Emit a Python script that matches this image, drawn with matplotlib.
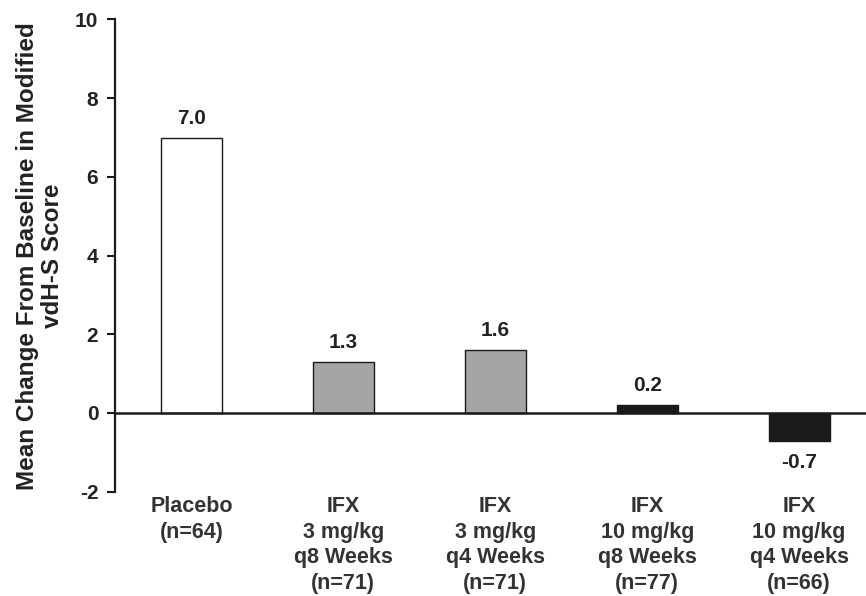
import matplotlib.pyplot as plt
import numpy as np

plt.rcParams['font.family'] = ['Liberation Sans', 'DejaVu Sans']

groups = ["Placebo\n(n=64)",
          "IFX\n3 mg/kg\nq8 Weeks\n(n=71)",
          "IFX\n3 mg/kg\nq4 Weeks\n(n=71)",
          "IFX\n10 mg/kg\nq8 Weeks\n(n=77)",
          "IFX\n10 mg/kg\nq4 Weeks\n(n=66)"]
mean_change = [7.0, 1.3, 1.6, 0.2, -0.7]
bar_colors = ["white", "#a5a5a7", "#a5a5a7", "#1a1a1a", "#1a1a1a"]
yticks = [-2, 0, 2, 4, 6, 8, 10]

fig = plt.figure(figsize=(8.66, 5.96), dpi=100)
ax = fig.add_axes([0.1328, 0.175, 0.8672, 0.7923])

x = np.arange(len(groups))
ax.bar(x, mean_change, width=0.40, color=bar_colors, edgecolor="#1a1a1a",
       linewidth=1.0, zorder=2)
ax.axhline(0, color="#1a1a1a", lw=1.8, zorder=3)

for xi, v in zip(x, mean_change):
    if v >= 0:
        ax.text(xi, v + 0.25, f"{v:.1f}", ha="center", va="bottom",
                fontsize=15, fontweight="bold", color="#222222")
    else:
        ax.text(xi, v - 0.32, f"{v:.1f}", ha="center", va="top",
                fontsize=15, fontweight="bold", color="#222222")

ax.set_xlim(-0.503, 4.44)
ax.set_ylim(-2, 10)
ax.set_yticks(yticks)
ax.set_yticklabels([str(t) for t in yticks], fontsize=15, fontweight="bold",
                   color="#222222")
ax.set_xticks(x)
ax.set_xticklabels(groups, fontsize=15.5, fontweight="bold", color="#333333",
                   linespacing=1.3)
ax.tick_params(axis="x", length=0, pad=3)
ax.tick_params(axis="y", length=6, width=1.5, color="#1a1a1a", pad=6)

for s in ["top", "right", "bottom"]:
    ax.spines[s].set_visible(False)
ax.spines["left"].set_linewidth(1.6)
ax.spines["left"].set_color("#1a1a1a")

fig.text(40 / 866, 0.5708, "Mean Change From Baseline in Modified\nvdH-S Score",
         rotation=90, ha="center", va="center", fontsize=17.5,
         fontweight="bold", color="#222222", linespacing=1.15)

fig.savefig("out.png", dpi=100)
